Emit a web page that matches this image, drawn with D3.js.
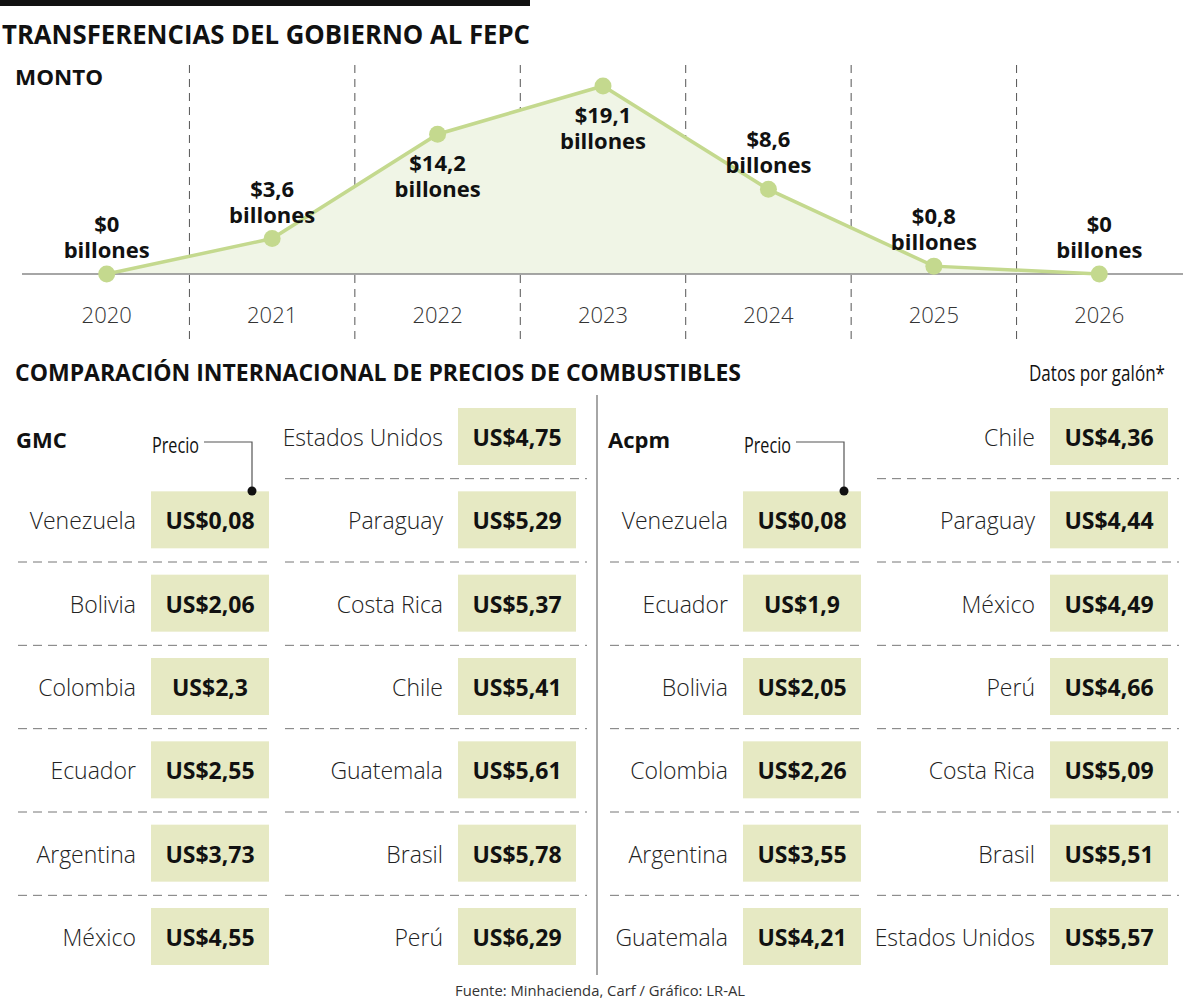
<!DOCTYPE html>
<html>
<head>
<meta charset="utf-8">
<script src="https://cdn.jsdelivr.net/npm/d3@7"></script>
<style>
  body { margin: 0; background: #fff; }
  text { font-family: "Open Sans", "Noto Sans", sans-serif; }
</style>
</head>
<body>
<div id="chart"></div>
<script>
// transferencias del gobierno al FEPC (billones de pesos)
var years = ["2020", "2021", "2022", "2023", "2024", "2025", "2026"]
var montos = [0, 3.6, 14.2, 19.1, 8.6, 0.8, 0]
var montoLabels = ["$0", "$3,6", "$14,2", "$19,1", "$8,6", "$0,8", "$0"]

// precios por galon, ordenados de menor a mayor
var gmcCountries = ["Venezuela", "Bolivia", "Colombia", "Ecuador", "Argentina", "México",
    "Estados Unidos", "Paraguay", "Costa Rica", "Chile", "Guatemala", "Brasil", "Perú"]
var gmcPrices = [0.08, 2.06, 2.3, 2.55, 3.73, 4.55, 4.75, 5.29, 5.37, 5.41, 5.61, 5.78, 6.29]

var acpmCountries = ["Venezuela", "Ecuador", "Bolivia", "Colombia", "Argentina", "Guatemala",
    "Chile", "Paraguay", "México", "Perú", "Costa Rica", "Brasil", "Estados Unidos"]
var acpmPrices = [0.08, 1.9, 2.05, 2.26, 3.55, 4.21, 4.36, 4.44, 4.49, 4.66, 5.09, 5.51, 5.57]

var svg = d3.select("#chart").append("svg")
    .attr("width", 1200)
    .attr("height", 999)

function fitText(sel, w) {
    // the original font is condensed, so set the width directly
    sel.attr("textLength", w).attr("lengthAdjust", "spacingAndGlyphs")
}

// header
svg.append("rect").attr("x", 0).attr("y", 0).attr("width", 530).attr("height", 6).attr("fill", "#111")
svg.append("text").attr("x", 2).attr("y", 44)
    .attr("font-size", 26).attr("font-weight", 700).attr("fill", "#111")
    .text("TRANSFERENCIAS DEL GOBIERNO AL FEPC")
    .call(fitText, 528)
svg.append("text").attr("x", 15).attr("y", 85)
    .attr("font-size", 22).attr("font-weight", 700).attr("fill", "#111")
    .text("MONTO")
    .call(fitText, 88)

// line chart
var x = d3.scaleBand().domain(years).range([24, 1182])
var y = d3.scaleLinear().domain([0, 19.1]).range([274, 86])
var cx = function (d, i) { return x(years[i]) + x.bandwidth() / 2 }

svg.selectAll(".divider")
    .data(years.slice(1))
    .enter()
    .append("line")
    .attr("x1", function (d) { return x(d) })
    .attr("x2", function (d) { return x(d) })
    .attr("y1", 65)
    .attr("y2", 342)
    .attr("stroke", "#555")
    .attr("stroke-width", 1)
    .attr("stroke-dasharray", "8,6")

var area = d3.area()
    .x(cx)
    .y0(y(0))
    .y1(function (d) { return y(d) })
svg.append("path").datum(montos).attr("d", area).attr("fill", "#f0f5e6")

svg.append("line")
    .attr("x1", 22).attr("x2", 1183)
    .attr("y1", y(0)).attr("y2", y(0))
    .attr("stroke", "#888").attr("stroke-width", 1.5)

var line = d3.line()
    .x(cx)
    .y(function (d) { return y(d) })
svg.append("path").datum(montos).attr("d", line)
    .attr("fill", "none").attr("stroke", "#c4d98e").attr("stroke-width", 3.5)

svg.selectAll(".pt")
    .data(montos)
    .enter()
    .append("circle")
    .attr("cx", cx)
    .attr("cy", function (d) { return y(d) })
    .attr("r", 8.5)
    .attr("fill", "#c4d98e")

// two line labels: above the point, or below it near the peak
var lbl = svg.selectAll(".lbl")
    .data(montos)
    .enter()
    .append("text")
    .attr("text-anchor", "middle")
    .attr("font-size", 22).attr("font-weight", 700).attr("fill", "#111")
lbl.append("tspan")
    .attr("x", cx)
    .attr("y", function (d) { return y(d) + (d > 10 ? 37 : -42) })
    .text(function (d, i) { return montoLabels[i] })
lbl.append("tspan")
    .attr("x", cx)
    .attr("dy", 26)
    .text("billones")

svg.selectAll(".yr")
    .data(years)
    .enter()
    .append("text")
    .attr("x", function (d) { return x(d) + x.bandwidth() / 2 })
    .attr("y", 323)
    .attr("text-anchor", "middle")
    .attr("font-size", 22).attr("font-weight", 300).attr("fill", "#333")
    .text(function (d) { return d })

// comparison table
svg.append("text").attr("x", 15).attr("y", 381)
    .attr("font-size", 23).attr("font-weight", 700).attr("fill", "#111")
    .text("COMPARACIÓN INTERNACIONAL DE PRECIOS DE COMBUSTIBLES")
    .call(fitText, 726)
svg.append("text").attr("x", 1029).attr("y", 381)
    .attr("font-size", 21).attr("fill", "#111")
    .text("Datos por galón*")
    .call(fitText, 136)

svg.append("line")
    .attr("x1", 597).attr("x2", 597).attr("y1", 395).attr("y2", 975)
    .attr("stroke", "#888").attr("stroke-width", 1.5)

var rowY = d3.scaleLinear().domain([0, 6]).range([437, 937])
var fmt = function (v) { return "US$" + String(v).replace(".", ",") }

function drawPanel(title, countries, prices, left) {
    var cols = [
        { box: left + 151, dashX1: left + 18, dashX2: left + 270 },
        { box: left + 458, dashX1: left + 285, dashX2: left + 587 }
    ]
    var items = countries.map(function (c, i) {
        return i < 6 ? { name: c, price: prices[i], col: 0, row: i + 1 }
                     : { name: c, price: prices[i], col: 1, row: i - 6 }
    })

    // dashed separators
    items.forEach(function (d) {
        if (d.row < 6 && !(d.col == 0 && d.row < 1)) {
            var c = cols[d.col]
            svg.append("line")
                .attr("x1", c.dashX1).attr("x2", c.dashX2)
                .attr("y1", (rowY(d.row) + rowY(d.row + 1)) / 2)
                .attr("y2", (rowY(d.row) + rowY(d.row + 1)) / 2)
                .attr("stroke", "#777").attr("stroke-width", 1)
                .attr("stroke-dasharray", "9,6")
        }
    })

    var g = svg.selectAll(null)
        .data(items)
        .enter()
        .append("g")
        .attr("transform", function (d) { return "translate(" + cols[d.col].box + "," + rowY(d.row) + ")" })
    g.append("rect")
        .attr("x", 0).attr("y", -29)
        .attr("width", 118).attr("height", 57)
        .attr("fill", "#e6e9c3")
    g.append("text")
        .attr("x", 59).attr("y", 9)
        .attr("text-anchor", "middle")
        .attr("font-size", 23).attr("font-weight", 700).attr("fill", "#111")
        .text(function (d) { return fmt(d.price) })
    g.append("text")
        .attr("x", -15).attr("y", 9)
        .attr("text-anchor", "end")
        .attr("font-size", 23).attr("font-weight", 300).attr("fill", "#222")
        .text(function (d) { return d.name })

    svg.append("text").attr("x", left + 16).attr("y", 448)
        .attr("font-size", 22).attr("font-weight", 700).attr("fill", "#111")
        .text(title)

    // "Precio" callout
    svg.append("text").attr("x", left + 152).attr("y", 453)
        .attr("font-size", 21).attr("fill", "#111")
        .text("Precio")
        .call(fitText, 47)
    svg.append("path")
        .attr("d", "M" + (left + 204) + ",442H" + (left + 252) + "V491")
        .attr("fill", "none").attr("stroke", "#555").attr("stroke-width", 1.2)
    svg.append("circle").attr("cx", left + 252).attr("cy", 491).attr("r", 4.5).attr("fill", "#111")
}

drawPanel("GMC", gmcCountries, gmcPrices, 0)
drawPanel("Acpm", acpmCountries, acpmPrices, 592)

svg.append("text").attr("x", 455).attr("y", 996)
    .attr("font-size", 15).attr("fill", "#333")
    .text("Fuente: Minhacienda, Carf / Gráfico: LR-AL")
    .call(fitText, 290)
</script>
</body>
</html>
